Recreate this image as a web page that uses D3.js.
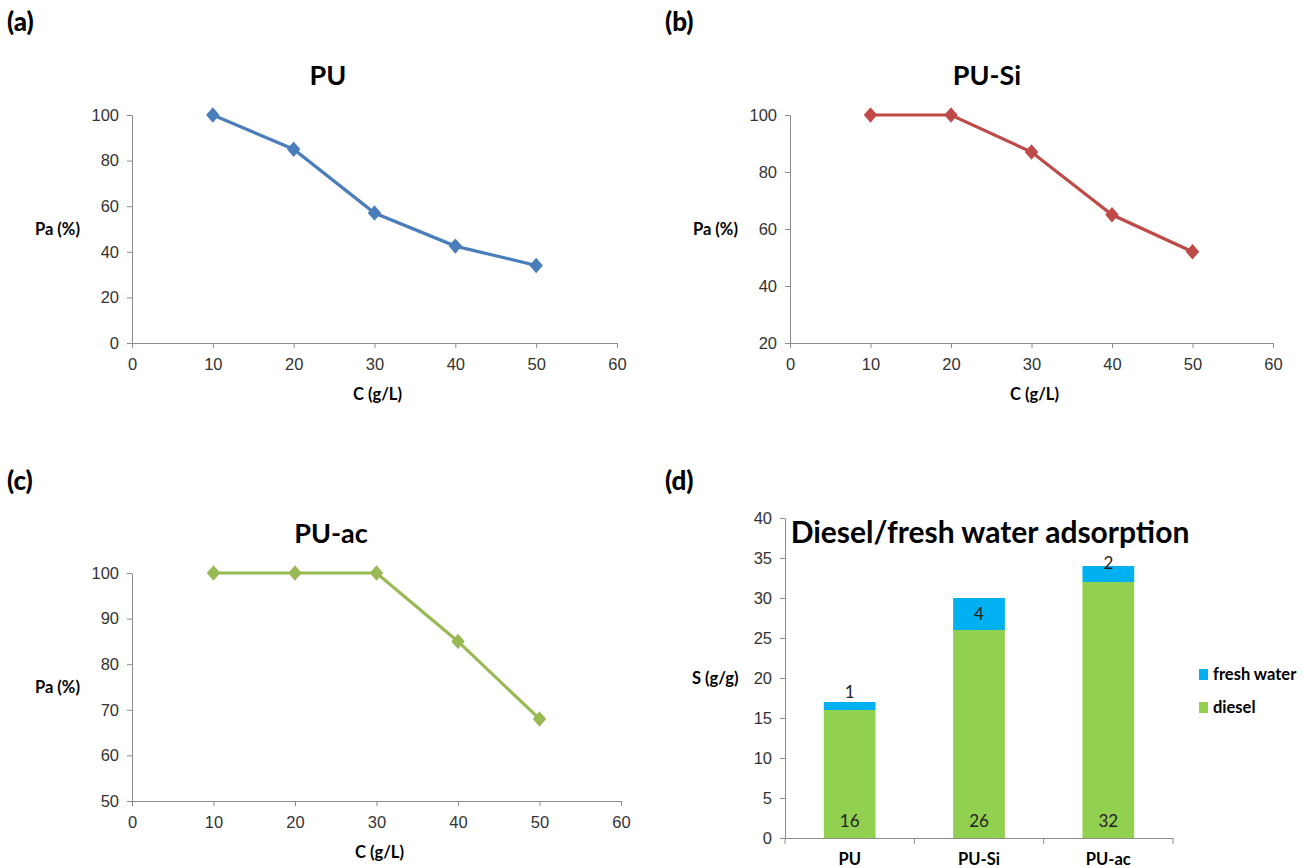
<!DOCTYPE html>
<meta charset="utf-8">
<style>
body { margin: 0; background: #fff; }
svg { font-family: Lato, "Open Sans", sans-serif; }
.tick text { font-size: 16.5px; fill: #333; }
.domain, .tick line { stroke: #8c8c8c; }
.panel-label { font-size: 26px; font-weight: 900; }
.title { font-size: 27px; font-weight: bold; text-anchor: middle; }
.axis-label { font-size: 16.5px; font-weight: bold; }
.bar-label { font-size: 17px; fill: #222; text-anchor: middle; }
</style>
<svg width="1304" height="868"></svg>
<script src="https://d3js.org/d3.v7.min.js"></script>
<script>
// values
var concentrations = [10, 20, 30, 40, 50];
var paPU = [100, 85, 57, 42.5, 34];
var paPUSi = [100, 100, 87, 65, 52];
var paPUac = [100, 100, 100, 85, 68];
var cTicks = [0, 10, 20, 30, 40, 50, 60];

var sorbents = ["PU", "PU-Si", "PU-ac"];
var dieselUptake = [16, 26, 32];
var freshWaterUptake = [1, 4, 2];
var sTicks = [0, 5, 10, 15, 20, 25, 30, 35, 40];

var svg = d3.select("svg");

// small helper -- draws one Pa vs C line panel
function linePanel(o) {
  var g = svg.append("g");
  var x = d3.scaleLinear().domain([0, 60]).range([o.left, o.right]);
  var y = d3.scaleLinear().domain(o.yDomain).range([o.bottom, o.top]);

  g.append("g")
      .attr("transform", "translate(0," + o.bottom + ")")
      .call(d3.axisBottom(x).tickValues(cTicks).tickSize(5).tickSizeOuter(0).tickPadding(10));
  g.append("g")
      .attr("transform", "translate(" + o.left + ",0)")
      .call(d3.axisLeft(y).tickValues(o.yTicks).tickSize(5).tickSizeOuter(0).tickPadding(8));

  var pts = concentrations.map(function(c, i) { return [x(c), y(o.values[i])]; });
  g.append("path")
      .attr("d", d3.line()(pts))
      .attr("fill", "none")
      .attr("stroke", o.color)
      .attr("stroke-width", 3.2);
  g.selectAll(".pt")
    .data(pts)
    .enter().append("path")
      .attr("class", "pt")
      .attr("d", d3.symbol(d3.symbolDiamond2, 115))
      .attr("transform", function(d) { return "translate(" + d[0] + "," + d[1] + ") scale(1,1.15)"; })
      .attr("fill", o.color);

  g.append("text").attr("class", "panel-label").attr("x", o.labelX).attr("y", o.labelY).text(o.label);
  g.append("text").attr("class", "title").attr("x", o.titleX).attr("y", o.titleY).text(o.title);
  g.append("text").attr("class", "axis-label").attr("x", o.left - 97).attr("y", (o.top + o.bottom) / 2 + 6).text("Pa (%)");
  g.append("text").attr("class", "axis-label").attr("text-anchor", "middle")
      .attr("x", (o.left + o.right) / 2 + 3).attr("y", o.bottom + 57).text("C (g/L)");
}

linePanel({ values: paPU, color: "#4a7ebb", yDomain: [0, 100], yTicks: [0, 20, 40, 60, 80, 100],
  left: 132, right: 617, top: 115, bottom: 343,
  label: "(a)", labelX: 7, labelY: 31, title: "PU", titleX: 328, titleY: 85 });

linePanel({ values: paPUSi, color: "#be4b48", yDomain: [20, 100], yTicks: [20, 40, 60, 80, 100],
  left: 790, right: 1273, top: 115, bottom: 343,
  label: "(b)", labelX: 665, labelY: 31, title: "PU-Si", titleX: 987, titleY: 85 });

linePanel({ values: paPUac, color: "#98b954", yDomain: [50, 100], yTicks: [50, 60, 70, 80, 90, 100],
  left: 132, right: 621, top: 573, bottom: 801,
  label: "(c)", labelX: 7, labelY: 490, title: "PU-ac", titleX: 331, titleY: 543 });

// (d) stacked bars
var gd = svg.append("g");
var bx = d3.scaleBand().domain(sorbents).range([785, 1173]).paddingInner(0.6).paddingOuter(0.3);
var by = d3.scaleLinear().domain([0, 40]).range([838, 518]);

gd.append("g")
    .attr("transform", "translate(785,0)")
    .call(d3.axisLeft(by).tickValues(sTicks).tickSize(5).tickSizeOuter(0).tickPadding(8));

var stackData = sorbents.map(function(s, i) {
  return { name: s, diesel: dieselUptake[i], fresh: freshWaterUptake[i] };
});
var series = d3.stack().keys(["diesel", "fresh"])(stackData);
var barColors = { diesel: "#92d050", fresh: "#00b0f0" };

gd.selectAll(".layer")
  .data(series)
  .enter().append("g")
    .attr("fill", function(d) { return barColors[d.key]; })
  .selectAll("rect")
  .data(function(d) { return d; })
  .enter().append("rect")
    .attr("x", function(d) { return bx(d.data.name); })
    .attr("width", bx.bandwidth())
    .attr("y", function(d) { return by(d[1]); })
    .attr("height", function(d) { return by(d[0]) - by(d[1]); });

// x axis line with category boundary ticks
gd.append("line").attr("x1", 785).attr("x2", 1173).attr("y1", 838.5).attr("y2", 838.5).attr("stroke", "#8c8c8c");
d3.range(4).forEach(function(i) {
  var xx = 785 + i * (388 / 3);
  gd.append("line").attr("x1", xx).attr("x2", xx).attr("y1", 838).attr("y2", 844).attr("stroke", "#8c8c8c");
});
gd.selectAll(".cat")
  .data(sorbents)
  .enter().append("text")
    .attr("class", "axis-label")
    .attr("text-anchor", "middle")
    .attr("x", function(d) { return bx(d) + bx.bandwidth() / 2; })
    .attr("y", 865)
    .text(function(d) { return d; });

// value labels
gd.selectAll(".dl")
  .data(stackData)
  .enter().append("text")
    .attr("class", "bar-label")
    .attr("x", function(d) { return bx(d.name) + bx.bandwidth() / 2; })
    .attr("y", by(0) - 11)
    .text(function(d) { return d.diesel; });

gd.selectAll(".fl")
  .data(stackData)
  .enter().append("text")
    .attr("class", "bar-label")
    .attr("x", function(d) { return bx(d.name) + bx.bandwidth() / 2; })
    .attr("y", function(d) {
      var top = by(d.diesel + d.fresh), h = by(d.diesel) - top;
      var cy = h >= 20 ? top + h / 2 : top - (20 - h) * 0.8;
      return cy + 6;
    })
    .text(function(d) { return d.fresh; });

gd.append("text").attr("class", "panel-label").attr("x", 665).attr("y", 490).text("(d)");
gd.append("text").attr("class", "title").style("font-size", "30px").attr("x", 990).attr("y", 543).text("Diesel/fresh water adsorption");
gd.append("text").attr("class", "axis-label").attr("x", 692).attr("y", 684).text("S (g/g)");

// legend
var legend = gd.selectAll(".lg")
  .data([["fresh", "fresh water"], ["diesel", "diesel"]])
  .enter().append("g")
    .attr("transform", function(d, i) { return "translate(1199," + (669 + i * 33) + ")"; });
legend.append("rect").attr("width", 9).attr("height", 11).attr("fill", function(d) { return barColors[d[0]]; });
legend.append("text").attr("class", "axis-label").attr("x", 14).attr("y", 11).text(function(d) { return d[1]; });
</script>
